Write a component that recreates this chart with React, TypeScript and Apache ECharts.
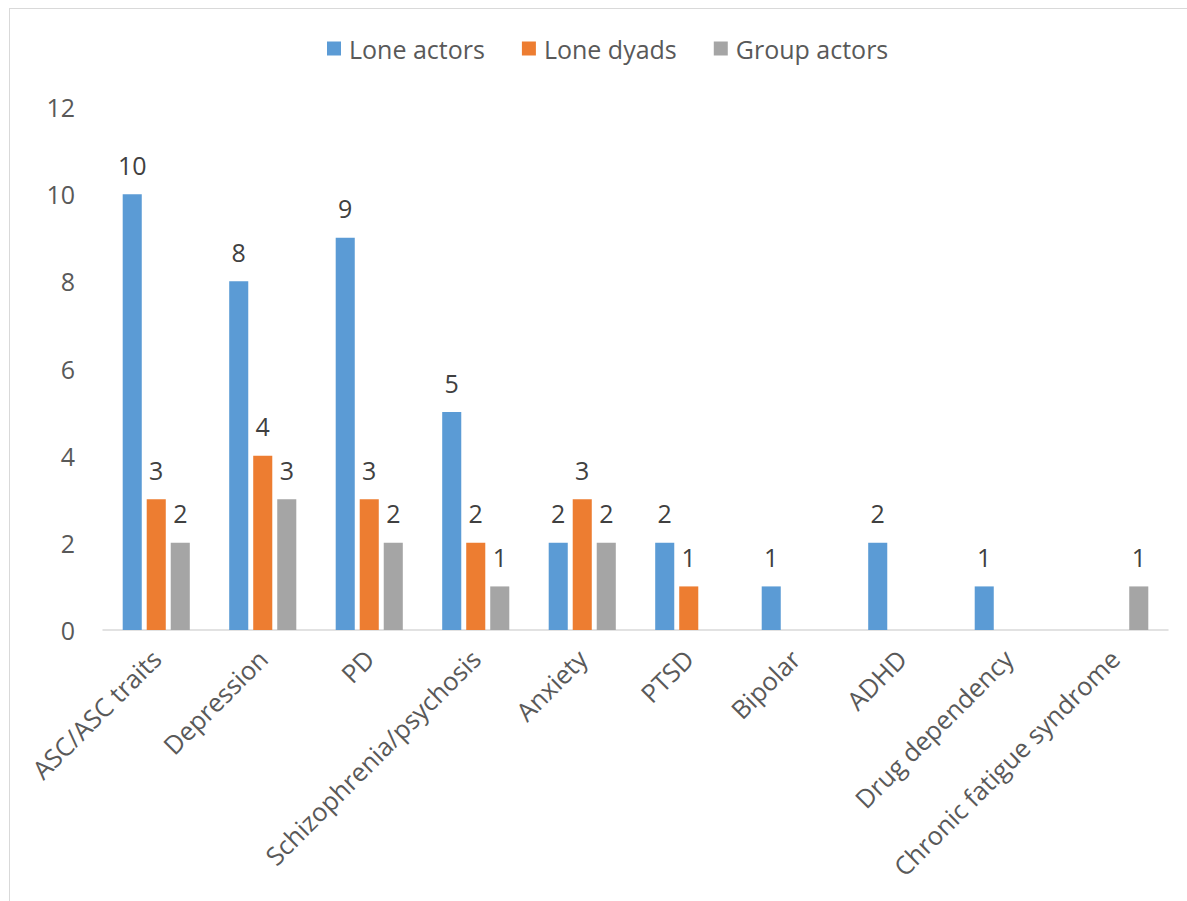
import React, { useEffect, useRef } from "react";
import * as echarts from "echarts";

const categories = [
  "ASC/ASC traits",
  "Depression",
  "PD",
  "Schizophrenia/psychosis",
  "Anxiety",
  "PTSD",
  "Bipolar",
  "ADHD",
  "Drug dependency",
  "Chronic fatigue syndrome",
];
const loneActors = [10, 8, 9, 5, 2, 2, 1, 2, 1, null];
const loneDyads = [3, 4, 3, 2, 3, 1, null, null, null, null];
const groupActors = [2, 3, 2, 1, 2, null, null, null, null, 1];
const yTicks = { min: 0, max: 12, interval: 2 };

const FONT = "'Open Sans', 'Noto Sans', sans-serif";

export default function App() {
  const ref = useRef<HTMLDivElement>(null);
  useEffect(() => {
    const chart = echarts.init(ref.current!, null, { renderer: "svg" });
    const mk = (name: string, data: (number | null)[], color: string) => ({
      name,
      type: "bar",
      data,
      barGap: "26%",
      barCategoryGap: "37%",
      itemStyle: { color },
      label: {
        show: true,
        position: "top",
        distance: 17,
        color: "#404040",
        fontSize: 25,
        fontFamily: FONT,
      },
    });
    chart.setOption({
      animation: false,
      backgroundColor: "transparent",
      textStyle: { fontFamily: FONT },
      legend: {
        top: 31,
        left: 322,
        itemWidth: 14,
        itemHeight: 14,
        itemGap: 37,
        icon: "rect",
        textStyle: { fontSize: 25, color: "#595959", fontFamily: FONT, padding: [0, 0, 0, 3] },
      },
      grid: { left: 103, right: 19, top: 107, bottom: 271, containLabel: false },
      xAxis: {
        type: "category",
        data: categories,
        axisLine: { show: true, lineStyle: { color: "#d9d9d9", width: 1.5 } },
        axisTick: { show: false },
        axisLabel: {
          rotate: 45,
          interval: 0,
          margin: 24,
          fontSize: 25.5,
          color: "#595959",
          fontFamily: FONT,
        },
      },
      yAxis: {
        type: "value",
        min: yTicks.min,
        max: yTicks.max,
        interval: yTicks.interval,
        axisLine: { show: false },
        axisTick: { show: false },
        splitLine: { show: false },
        axisLabel: { fontSize: 25, color: "#595959", margin: 28, fontFamily: FONT },
      },
      series: [
        mk("Lone actors", loneActors, "#5B9BD5"),
        mk("Lone dyads", loneDyads, "#ED7D31"),
        mk("Group actors", groupActors, "#A5A5A5"),
      ],
    });
    return () => chart.dispose();
  }, []);
  return (
    <div style={{ position: "absolute", left: 0, top: 0, width: 1187, height: 901, background: "#fff", overflow: "hidden" }}>
      <div
        style={{
          position: "absolute",
          left: 9,
          top: 8,
          width: 1200,
          height: 920,
          borderLeft: "1.5px solid #d9d9d9",
          borderTop: "1.5px solid #d9d9d9",
        }}
      />
      <div ref={ref} style={{ position: "absolute", left: 0, top: 0, width: 1187, height: 901 }} />
    </div>
  );
}
